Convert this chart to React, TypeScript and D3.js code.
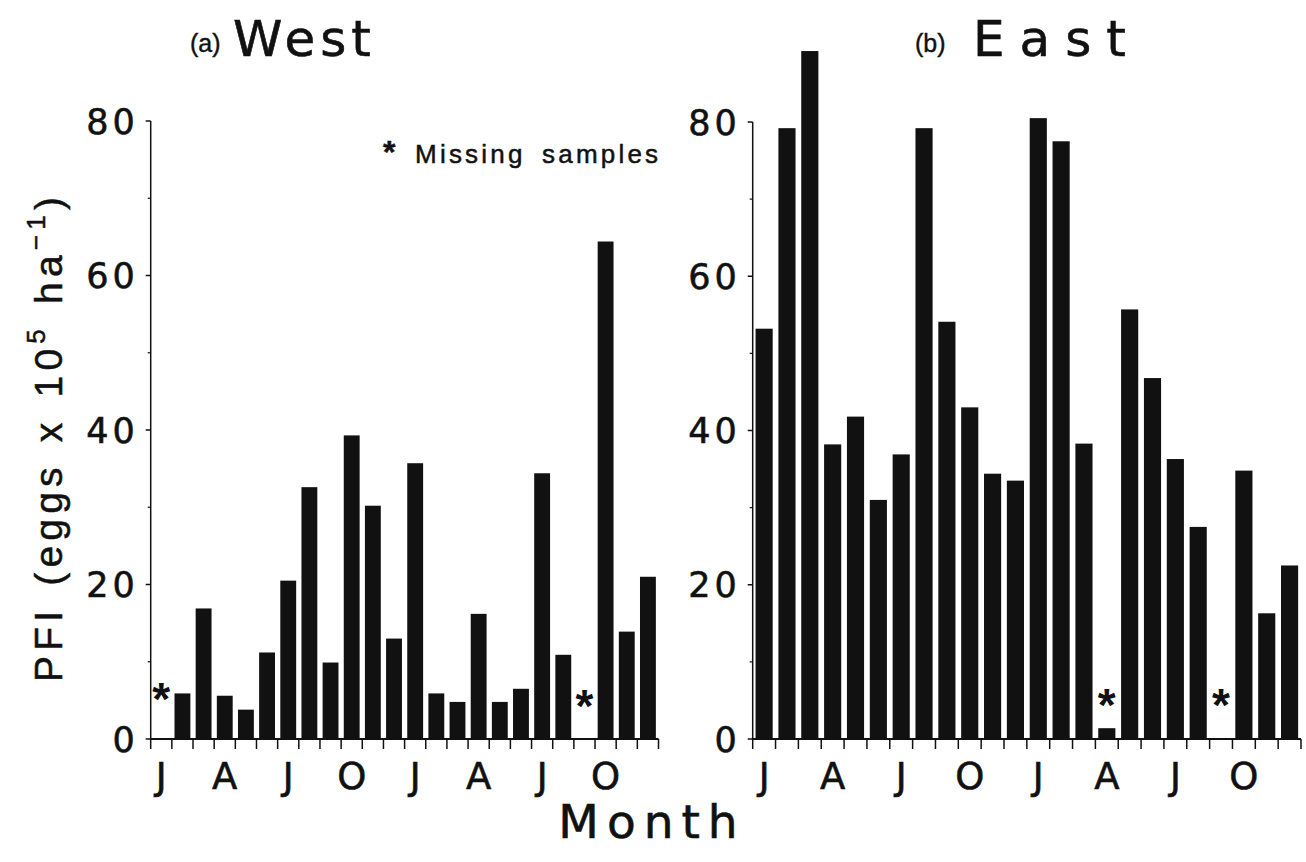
import React from 'react';
import * as d3 from 'd3';

// month initials for the 24 sampled months (only every 3rd is labelled)
const monthInitials = ['J', 'F', 'M', 'A', 'M', 'J', 'J', 'A', 'S', 'O', 'N', 'D',
  'J', 'F', 'M', 'A', 'M', 'J', 'J', 'A', 'S', 'O', 'N', 'D'];

// PFI (eggs x 10^5 ha^-1)
const westValues = [0, 5.9, 16.9, 5.6, 3.8, 11.2, 20.5, 32.6, 9.9, 39.3, 30.2, 13.0,
  35.7, 5.9, 4.8, 16.2, 4.8, 6.5, 34.4, 10.9, 0, 64.4, 13.9, 21.0];
const eastValues = [53.2, 79.2, 89.2, 38.2, 41.8, 31.0, 36.9, 79.2, 54.1, 43.0, 34.4, 33.5,
  80.5, 77.5, 38.3, 1.4, 55.7, 46.8, 36.3, 27.5, 0, 34.8, 16.3, 22.5];

// months with missing samples, and the level the asterisk sits at
const westMissing = [0, 20];
const westStarLevel = [6.6, 5.7];
const eastMissing = [15, 20];
const eastStarLevel = [5.8, 5.8];

const majorTicks = [0, 20, 40, 60, 80];
const minorTicks = [10, 30, 50, 70];

const tickFont = '"DejaVu Sans", sans-serif';
const textFont = '"Liberation Sans", Arial, sans-serif';
const ink = '#111';

function Panel(props) {
  const { values, missing, starLevel, x0, x1, label, name, labelX, nameX, nameSpacing, yTopPx } = props;

  const y = d3.scaleLinear().domain([0, 80]).range([739, yTopPx]);
  const slots = values.map((d, i) => String(i));
  const x = d3.scaleBand().domain(slots).range([x0, x1]).paddingInner(0.25).paddingOuter(0.125);
  const edge = d3.scaleLinear().domain([0, values.length]).range([x0, x1]);

  return (
    <g>
      <text x={labelX} y={52} fontFamily={textFont} fontSize={25} fill={ink} stroke={ink} strokeWidth={0.4}>{label}</text>
      <text x={nameX} y={56} fontFamily={tickFont} fontSize={50} letterSpacing={nameSpacing} fill={ink}
        stroke={ink} strokeWidth={0.6}>{name}</text>

      {values.map((v, i) => (
        <rect key={i} x={x(String(i))} y={y(v)} width={x.bandwidth()} height={y(0) - y(v)} fill={ink} />
      ))}

      {missing.map((m, i) => (
        <text key={'s' + i} x={x(String(m)) + x.bandwidth() / 2} y={y(starLevel[i])} dy="0.58em"
          textAnchor="middle" fontFamily={textFont} fontWeight="bold" fontSize={46} fill={ink}>*</text>
      ))}

      {/* y axis */}
      <line x1={x0} x2={x0} y1={y(0)} y2={y(80)} stroke={ink} strokeWidth={1.5} />
      {majorTicks.map(t => (
        <g key={t}>
          <line x1={x0 - 5} x2={x0} y1={y(t)} y2={y(t)} stroke={ink} strokeWidth={1.5} />
          <text x={x0 - 12} y={y(t)} dy="0.36em" textAnchor="end" fontFamily={tickFont}
            fontSize={35} letterSpacing={4} fill={ink} stroke={ink} strokeWidth={0.6}>{t}</text>
        </g>
      ))}
      {minorTicks.map(t => (
        <line key={t} x1={x0 - 3} x2={x0} y1={y(t)} y2={y(t)} stroke={ink} strokeWidth={1.2} />
      ))}

      {/* x axis */}
      <line x1={x0} x2={x1} y1={y(0)} y2={y(0)} stroke={ink} strokeWidth={2} />
      {d3.range(values.length + 1).map(i => (
        <line key={i} x1={edge(i)} x2={edge(i)} y1={y(0)} y2={y(0) + 10} stroke={ink} strokeWidth={1.5} />
      ))}
      {monthInitials.map((m, i) => i % 3 === 0 ? (
        <text key={i} x={x(String(i)) + x.bandwidth() / 2} y={789} textAnchor="middle"
          fontFamily={tickFont} fontSize={37} fill={ink} stroke={ink} strokeWidth={0.6}>{m}</text>
      ) : null)}
    </g>
  );
}

export default function App() {
  return (
    <svg width={1306} height={862} style={{ position: 'absolute', left: 0, top: 0, background: '#fff' }}>
      <Panel values={westValues} missing={westMissing} starLevel={westStarLevel}
        x0={150.7} x1={658.5} yTopPx={121} label="(a)" name="West" labelX={190} nameX={233} nameSpacing={5} />
      <Panel values={eastValues} missing={eastMissing} starLevel={eastStarLevel}
        x0={752.7} x1={1301} yTopPx={122} label="(b)" name="East" labelX={915} nameX={973} nameSpacing={15} />

      <text x={383} y={163} fontFamily={textFont} fontSize={26} letterSpacing={3.2} wordSpacing={6} fill={ink}
        stroke={ink} strokeWidth={0.5}>
        <tspan fontWeight="bold" fontSize={32}>*</tspan> Missing samples
      </text>

      <text transform="translate(62,437) rotate(-90)" textAnchor="middle" fontFamily={textFont}
        fontSize={39} letterSpacing={5.2} wordSpacing={4} fill={ink} stroke={ink} strokeWidth={0.5}>
        PFI (eggs x 10<tspan fontSize={26} dy={-17}>5</tspan><tspan dy={17}> ha</tspan>
        <tspan fontSize={26} dy={-17}>−1</tspan><tspan dy={17}>)</tspan>
      </text>

      <text x={652} y={838} textAnchor="middle" fontFamily={tickFont} fontSize={47} letterSpacing={8} fill={ink}
        stroke={ink} strokeWidth={0.6}>Month</text>
    </svg>
  );
}
